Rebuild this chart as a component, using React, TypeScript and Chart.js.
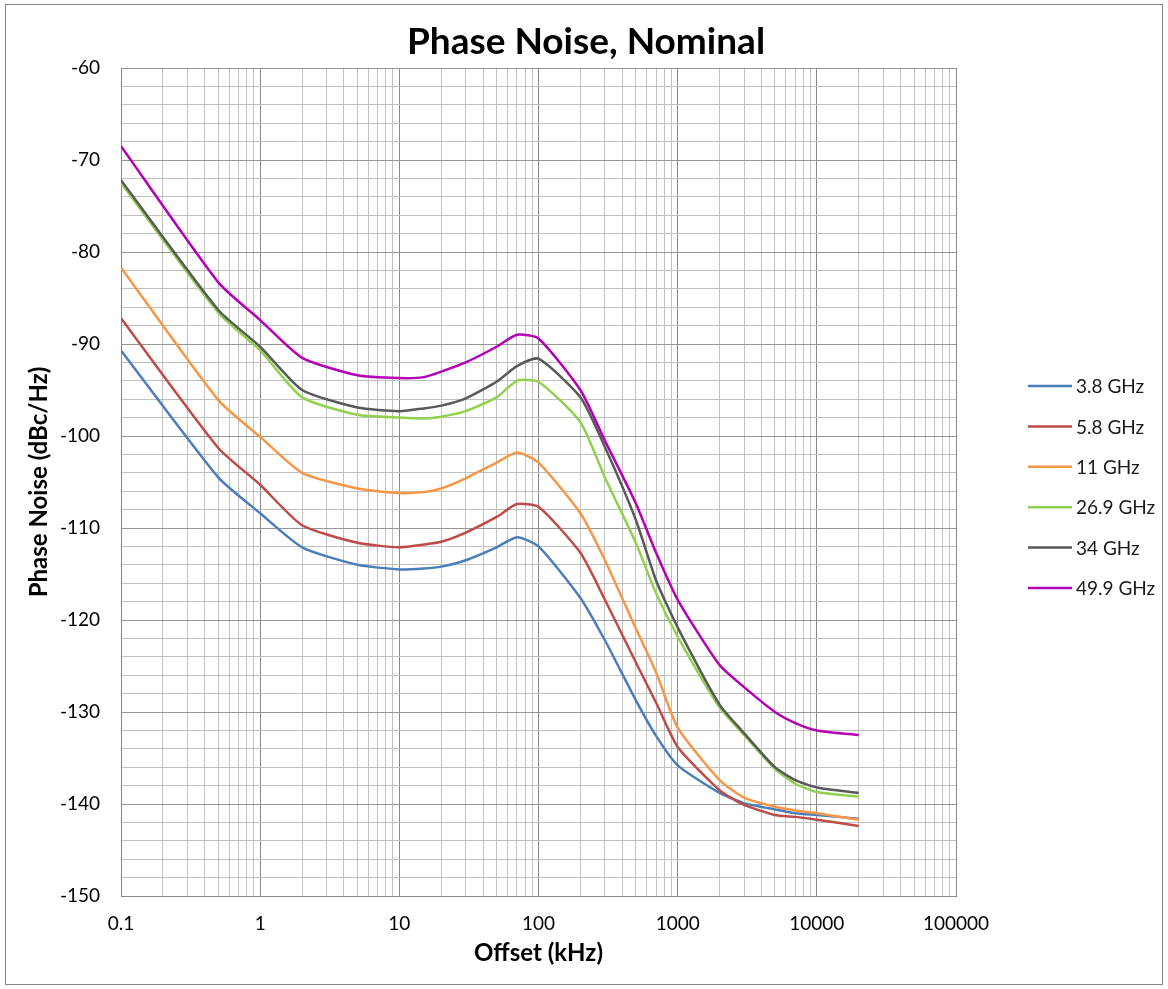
import React, { useEffect, useRef } from 'react';
import { Chart, registerables } from 'chart.js';

Chart.register(...registerables);

// ---- Data ----
const OFFSETS_KHZ = [0.1, 0.5, 1, 2, 5, 10, 15, 20, 30, 50, 70, 100, 200, 300, 500, 700, 1000, 2000, 3000, 5000, 7000, 10000, 20000];

const PN_3_8_GHZ = [-90.7, -104.5, -108.4, -112.1, -114.0, -114.5, -114.4, -114.2, -113.5, -112.1, -111.0, -112.0, -117.6, -122.2, -128.7, -132.6, -135.8, -138.8, -139.9, -140.6, -141.0, -141.2, -141.6];
const PN_5_8_GHZ = [-87.2, -101.3, -105.3, -109.7, -111.6, -112.1, -111.8, -111.5, -110.5, -108.8, -107.4, -107.7, -112.7, -117.8, -124.6, -129.0, -133.8, -138.5, -140.1, -141.2, -141.4, -141.7, -142.4];
const PN_11_GHZ = [-81.7, -96.1, -100.1, -104.0, -105.7, -106.2, -106.1, -105.7, -104.6, -102.9, -101.8, -102.9, -108.4, -113.5, -120.9, -125.7, -131.7, -137.4, -139.3, -140.3, -140.7, -141.0, -141.7];
const PN_26_9_GHZ = [-72.5, -86.6, -90.7, -95.8, -97.7, -98.0, -98.1, -97.9, -97.3, -95.8, -94.0, -94.1, -98.5, -104.5, -111.6, -117.1, -121.8, -129.5, -132.5, -136.2, -137.8, -138.7, -139.2];
const PN_34_GHZ = [-72.2, -86.3, -90.3, -95.0, -96.9, -97.3, -97.0, -96.7, -95.9, -94.1, -92.4, -91.6, -95.8, -101.2, -109.1, -115.7, -120.8, -129.2, -132.3, -136.0, -137.4, -138.2, -138.8];
const PN_49_9_GHZ = [-68.5, -83.3, -87.4, -91.5, -93.4, -93.7, -93.6, -93.0, -92.0, -90.3, -89.0, -89.4, -95.0, -100.5, -107.3, -112.7, -117.8, -124.9, -127.3, -130.0, -131.2, -132.0, -132.5];

const SERIES_LABELS = ['3.8 GHz', '5.8 GHz', '11 GHz', '26.9 GHz', '34 GHz', '49.9 GHz'];
const SERIES_VALUES = [PN_3_8_GHZ, PN_5_8_GHZ, PN_11_GHZ, PN_26_9_GHZ, PN_34_GHZ, PN_49_9_GHZ];
const SERIES_COLORS = ['#4A7EBB', '#BE4B48', '#F79646', '#92D050', '#595959', '#B400B4'];

const X_TICK_LABELS = ['0.1', '1', '10', '100', '1000', '10000', '100000'];
const Y_MIN = -150;
const Y_MAX = -60;
const Y_LABEL_STEP = 10;
const Y_GRID_STEP = 2;

const TITLE = 'Phase Noise, Nominal';
const X_TITLE = 'Offset (kHz)';
const Y_TITLE = 'Phase Noise (dBc/Hz)';

const FONT = 'Lato, "Open Sans", sans-serif';

const isDecade = (v: number) => Math.abs(Math.log10(v) - Math.round(Math.log10(v))) < 1e-9;

const decorPlugin = {
  id: 'decor',
  afterDraw(chart: any) {
    const ctx = chart.ctx as CanvasRenderingContext2D;
    ctx.save();
    // outer border
    ctx.strokeStyle = '#868686';
    ctx.lineWidth = 1;
    ctx.strokeRect(5.5, 4.5, 1157, 980);
    // title
    ctx.fillStyle = '#000';
    ctx.font = `bold 37px ${FONT}`;
    ctx.textAlign = 'center';
    ctx.textBaseline = 'middle';
    ctx.fillText(TITLE, 586, 42);
    // legend
    ctx.font = `19px ${FONT}`;
    ctx.textAlign = 'left';
    SERIES_LABELS.forEach((label, i) => {
      const y = 386 + i * 40.4;
      ctx.strokeStyle = SERIES_COLORS[i];
      ctx.lineWidth = 2.5;
      ctx.beginPath();
      ctx.moveTo(1028, y);
      ctx.lineTo(1072, y);
      ctx.stroke();
      ctx.fillStyle = '#1a1a1a';
      ctx.fillText(label, 1076, y + 1);
    });
    ctx.restore();
  },
};

export default function App() {
  const canvasRef = useRef<HTMLCanvasElement | null>(null);

  useEffect(() => {
    if (!canvasRef.current) return;
    const datasets = SERIES_LABELS.map((label, i) => ({
      label,
      data: OFFSETS_KHZ.map((x, j) => ({ x, y: SERIES_VALUES[i][j] })),
      borderColor: SERIES_COLORS[i],
      backgroundColor: SERIES_COLORS[i],
      borderWidth: 2.5,
      pointRadius: 0,
      tension: 0.2,
      fill: false,
      order: SERIES_LABELS.length - i,
    }));

    const chart = new Chart(canvasRef.current, {
      type: 'line',
      data: { datasets },
      plugins: [decorPlugin],
      options: {
        animation: false,
        responsive: false,
        maintainAspectRatio: false,
        layout: { padding: { top: 68, right: 212, left: 0, bottom: 0 } },
        plugins: {
          legend: { display: false },
          title: { display: false },
          tooltip: { enabled: false },
        },
        scales: {
          x: {
            type: 'logarithmic',
            min: 0.1,
            max: 100000,
            afterBuildTicks: (scale: any) => {
              const ticks: any[] = [];
              for (let e = -1; e <= 5; e++) {
                for (let k = 1; k <= 9; k++) {
                  const v = Number((k * Math.pow(10, e)).toPrecision(6));
                  if (v > 100000) break;
                  ticks.push({ value: v });
                }
              }
              scale.ticks = ticks;
            },
            afterFit: (scale: any) => {
              scale.height = 93;
            },
            ticks: {
              autoSkip: false,
              maxRotation: 0,
              minRotation: 0,
              padding: 16,
              color: '#000',
              font: { family: FONT, size: 19 },
              callback: (value: any) => {
                const v = Number(value);
                if (!isDecade(v)) return '';
                const idx = Math.round(Math.log10(v)) + 1;
                return X_TICK_LABELS[idx] ?? '';
              },
            },
            grid: {
              drawTicks: false,
              lineWidth: 1,
              color: (ctx: any) => (ctx.tick && isDecade(ctx.tick.value) ? '#888888' : '#c0c0c0'),
            },
            border: { display: true, color: '#888888', width: 1 },
            title: {
              display: true,
              text: X_TITLE,
              color: '#000',
              font: { family: FONT, size: 24, weight: 'bold' },
              padding: { top: 0, bottom: 21 },
            },
          },
          y: {
            type: 'linear',
            min: Y_MIN,
            max: Y_MAX,
            afterBuildTicks: (scale: any) => {
              const ticks: any[] = [];
              for (let v = Y_MIN; v <= Y_MAX; v += Y_GRID_STEP) ticks.push({ value: v });
              scale.ticks = ticks;
            },
            afterFit: (scale: any) => {
              scale.width = 121;
            },
            ticks: {
              autoSkip: false,
              padding: 21,
              color: '#000',
              font: { family: FONT, size: 19 },
              callback: (value: any) => (Number(value) % Y_LABEL_STEP === 0 ? String(value) : ''),
            },
            grid: {
              drawTicks: false,
              lineWidth: 1,
              color: (ctx: any) => (ctx.tick && ctx.tick.value % Y_LABEL_STEP === 0 ? '#969696' : '#c0c0c0'),
            },
            border: { display: true, color: '#888888', width: 1 },
            title: {
              display: true,
              text: Y_TITLE,
              color: '#000',
              font: { family: FONT, size: 24, weight: 'bold' },
              padding: { top: 25, bottom: 0 },
            },
          },
        },
      } as any,
    });

    return () => chart.destroy();
  }, []);

  return (
    <div style={{ position: 'absolute', left: 0, top: 0, width: 1168, height: 989, background: '#fff' }}>
      <canvas ref={canvasRef} width={1168} height={989} style={{ display: 'block' }} />
    </div>
  );
}
